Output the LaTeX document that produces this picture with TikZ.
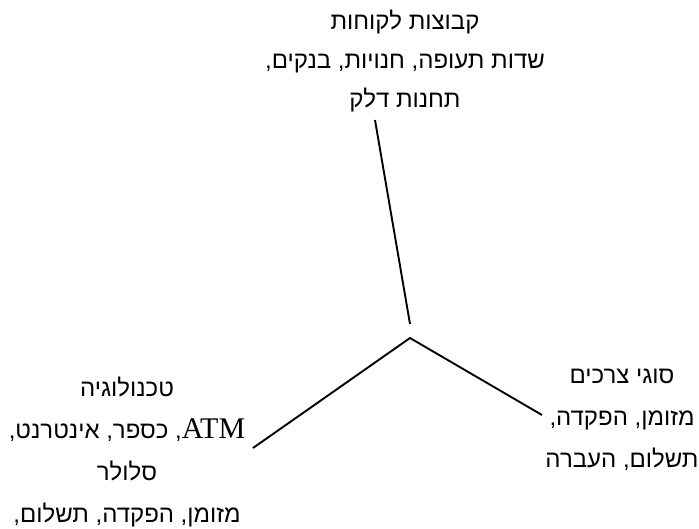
\documentclass[tikz,border=0pt]{standalone}
\usepackage{fontspec}
\setmainfont{Liberation Serif}
\newfontfamily\hebfont[Script=Hebrew]{Liberation Sans}
\TeXXeTstate=1
\newcommand{\heb}[1]{\beginR#1\endR}
\newcommand{\ltr}[1]{\beginL#1\endL{}}

\begin{document}
\begin{tikzpicture}[
    x=1pt, y=-1pt,
    group/.style={
        align=center,
        inner sep=0pt,
        font=\hebfont\fontsize{24}{39}\selectfont
    },
    wide/.style={
        font=\hebfont\fontsize{24}{42}\selectfont
    },
    spoke/.style={line width=1.9pt}
]
\useasboundingbox (0,0) rectangle (699,528);

\node[group] (clients) at (405,61) {\heb{קבוצות לקוחות}\\\heb{שדות תעופה, חנויות, בנקים,}\\\heb{תחנות דלק}};
\node[group, wide] (needs) at (622,420) {\heb{סוגי צרכים}\\\heb{מזומן, הפקדה,}\\\heb{תשלום, העברה}};
\node[group, wide] (tech) at (127,452) {\heb{טכנולוגיה}\\\heb{\ltr{{\rmfamily\fontsize{30}{42}\selectfont ATM}}, כספר, אינטרנט,}\\\heb{סלולר}\\\heb{מזומן, הפקדה, תשלום,}};

\coordinate (clientsend) at (375,120);
\coordinate (clientsfoot) at (410,324);
\coordinate (hub) at (410,338);
\coordinate (techend) at (253,448);
\coordinate (needsend) at (542,415);

\draw[spoke] (clientsend) -- (clientsfoot);
\draw[spoke] (techend) -- (hub) -- (needsend);

\end{tikzpicture}
\end{document}
